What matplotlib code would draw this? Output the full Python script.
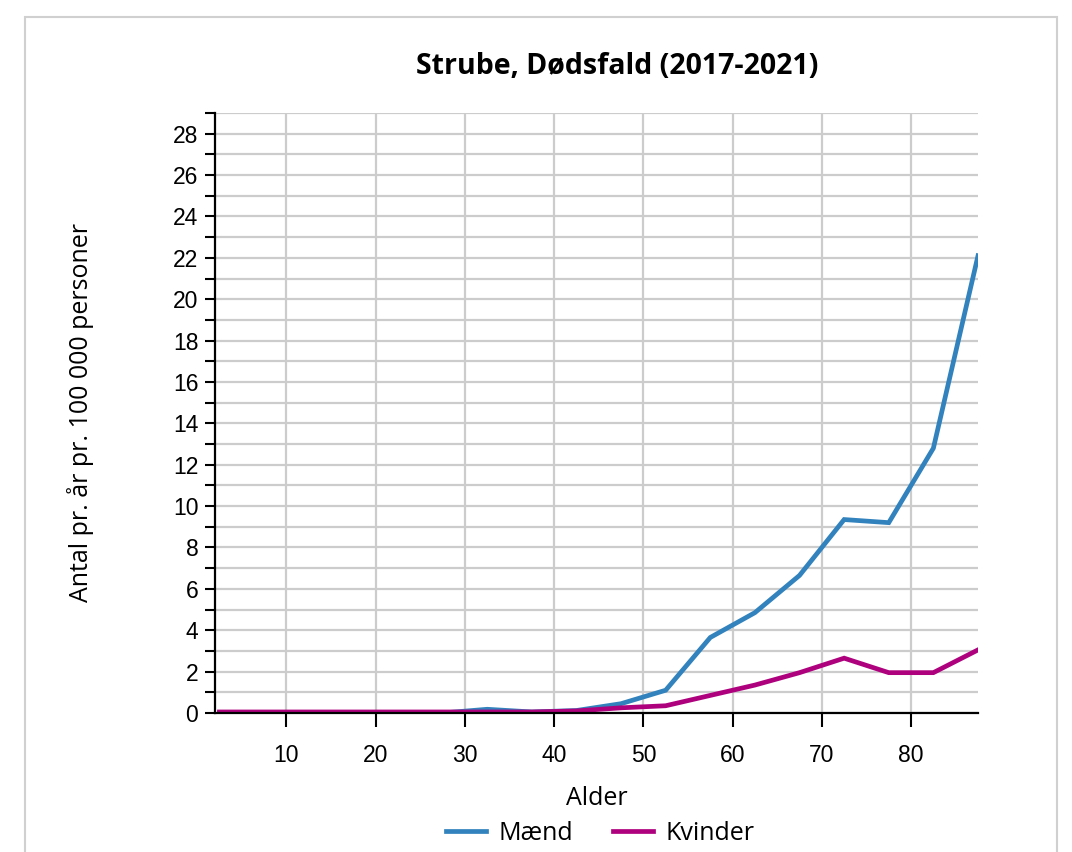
import numpy as np
import matplotlib
matplotlib.use("Agg")
import matplotlib.pyplot as plt
from matplotlib.patches import Rectangle
from matplotlib.ticker import MultipleLocator

# aldersgrupper (midtpunkter)
alder = [2.5, 7.5, 12.5, 17.5, 22.5, 27.5, 32.5, 37.5, 42.5,
         47.5, 52.5, 57.5, 62.5, 67.5, 72.5, 77.5, 82.5, 87.5]
maend = [0, 0, 0, 0, 0, 0, 0.18, 0.05, 0.12,
         0.45, 1.1, 3.65, 4.85, 6.65, 9.35, 9.2, 12.8, 22.1]
kvinder = [0.05, 0.05, 0.05, 0.05, 0.05, 0.05, 0.05, 0.05, 0.1,
           0.25, 0.35, 0.85, 1.35, 1.95, 2.65, 1.95, 1.95, 3.05]

BLUE = "#3182bd"
MAGENTA = "#ae017e"

fig = plt.figure(figsize=(10.72, 8.52), dpi=100)
fig.patches.append(Rectangle((25 / 1072, -0.01), 1032 / 1072, 1 - 17 / 852 + 0.01,
                             transform=fig.transFigure, fill=False,
                             edgecolor="#d0d0d0", linewidth=1.5))

ax = fig.add_axes([215 / 1072, 139 / 852, 763 / 1072, 600 / 852])

ax.plot(alder, maend, color=BLUE, lw=3.4, label="Mænd", solid_joinstyle="miter")
ax.plot(alder, kvinder, color=MAGENTA, lw=3.4, label="Kvinder", solid_joinstyle="miter")

ax.set_xlim(2, 87.5)
ax.set_ylim(0, 29)
ax.xaxis.set_major_locator(MultipleLocator(10))
ax.yaxis.set_major_locator(MultipleLocator(2))
ax.yaxis.set_minor_locator(MultipleLocator(1))

ax.grid(True, which="both", axis="y", color="#cccccc", lw=1.6)
ax.grid(True, which="major", axis="x", color="#cccccc", lw=1.6)
ax.set_axisbelow(True)

for s in ["top", "right"]:
    ax.spines[s].set_visible(False)
for s in ["left", "bottom"]:
    ax.spines[s].set_linewidth(1.6)

ax.tick_params(axis="both", which="both", direction="out", width=1.5, color="black")
ax.tick_params(axis="y", which="major", length=7, pad=5)
ax.tick_params(axis="y", which="minor", length=7)
ax.tick_params(axis="x", which="major", length=10, pad=12)
for lab in ax.get_xticklabels() + ax.get_yticklabels():
    lab.set_fontfamily("Liberation Sans")
    lab.set_fontsize(16.5)

ax.set_xlabel("Alder", fontfamily="Open Sans", fontsize=18, labelpad=14)
ax.set_ylabel("Antal pr. år pr. 100 000 personer", fontfamily="Open Sans",
              fontsize=18)
ax.yaxis.set_label_coords(-121 / 763, 0.5)

fig.text(617 / 1072, 1 - 67 / 852, "Strube, Dødsfald (2017-2021)",
         fontfamily="Open Sans", fontweight="bold", fontsize=20.5,
         ha="center", va="center")

leg = fig.legend(loc="center", bbox_to_anchor=(600 / 1072, 1 - 833 / 852), ncol=2,
                 frameon=False, handlelength=1.6, handletextpad=0.5,
                 columnspacing=1.6, prop={"family": "Open Sans", "size": 18})

fig.savefig("out.png", dpi=100)
